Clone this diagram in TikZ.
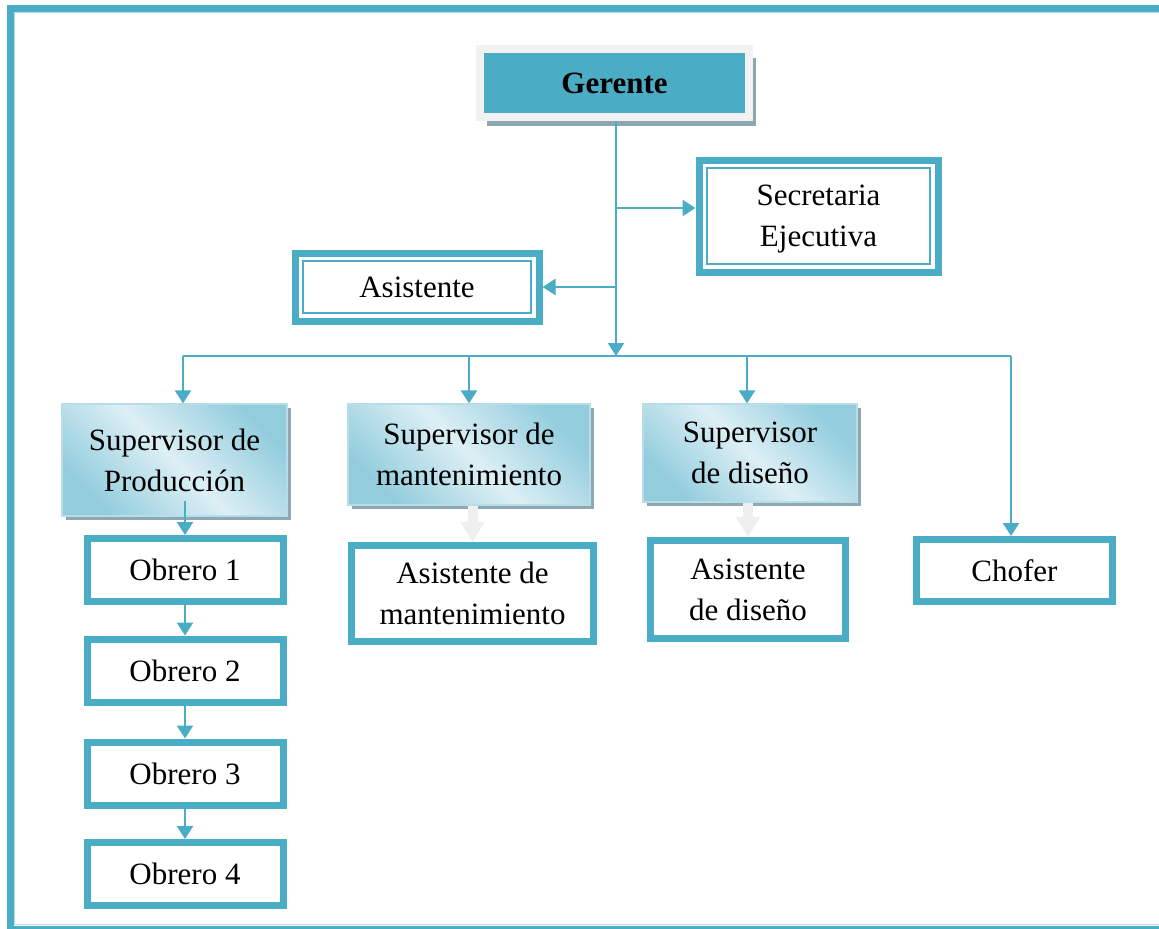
\documentclass[tikz,border=0pt]{standalone}
\usepackage{fontspec}
\setmainfont{Liberation Serif}
\usepackage{tikz}
\usetikzlibrary{arrows.meta}
\usetikzlibrary{shadows}
\definecolor{frameblue}{HTML}{4BACC6}
\definecolor{framelight}{HTML}{B7DEE8}
\definecolor{boxgray}{HTML}{F2F2F2}
\definecolor{shadowgray}{HTML}{8EA8B3}
\definecolor{supdark}{HTML}{93CDDD}
\definecolor{suplight}{HTML}{DDEFF5}
\definecolor{blockgray}{HTML}{EFEFEF}
\newcommand{\orgfont}{\fontsize{15.5}{20.5}\selectfont}
\tikzstyle{org_text}=[font=\orgfont, align=center, inner sep=0pt]
\tikzstyle{plain_box}=[org_text, rectangle, draw=frameblue, line width=3.5pt, fill=white]
\tikzset{double_box/.style={plain_box,
    path picture={
        \draw[frameblue, line width=1pt]
        ([xshift=4pt,yshift=-4pt]path picture bounding box.north west) rectangle
        ([xshift=-4pt,yshift=4pt]path picture bounding box.south east);
      }
    }
}
\tikzstyle{head_box}=[org_text, font=\orgfont\bfseries, rectangle,
    draw=boxgray, line width=4pt, fill=frameblue,
    drop shadow={shadow xshift=3.5pt, shadow yshift=-4.5pt, fill=shadowgray, opacity=1}]
\tikzstyle{sup_box}=[org_text, rectangle, draw=framelight, line width=0.6pt,
    top color=supdark, bottom color=supdark, middle color=suplight, shading angle=-45,
    drop shadow={shadow xshift=2pt, shadow yshift=-2pt, fill=shadowgray, opacity=1}]
\tikzstyle{bus_line}=[draw=frameblue, line width=1.2pt]
\tikzstyle{link}=[bus_line, -{Triangle[length=6.5pt,width=8pt]}]
\tikzstyle{block_link}=[draw=blockgray, line width=5pt, -{Triangle[length=10pt,width=11.5pt]}]

\begin{document}
\begin{tikzpicture}[x=0.5pt,y=-0.5pt]
\useasboundingbox (0,0) rectangle (1159,928);
\draw[framelight, line width=0.5pt] (14.5,12.5) rectangle (1175,924.5);
\draw[frameblue, line width=3.5pt] (10.5,8.5) rectangle (1175,929);
\node[head_box, minimum width=134.5pt, minimum height=34pt] (gerente) at (614.5,83){Gerente};
\node[double_box, minimum width=119.5pt, minimum height=56pt, text depth=-4pt] (secretaria) at (818.5,216){Secretaria\\Ejecutiva};
\node[double_box, minimum width=122pt, minimum height=34pt] (asistente) at (417,287){Asistente};
\node[sup_box, minimum width=112.5pt, minimum height=56pt] (supprod) at (174.5,460){Supervisor de\\Producción};
\node[sup_box, minimum width=121pt, minimum height=50.5pt] (supmant) at (469,454.5){Supervisor de\\mantenimiento};
\node[sup_box, minimum width=107pt, minimum height=49pt] (supdis) at (750,453){Supervisor\\de diseño};
\node[plain_box, minimum width=98pt, minimum height=31.5pt] (obrero1) at (185,570){Obrero 1};
\node[plain_box, minimum width=98pt, minimum height=31.5pt] (obrero2) at (185,670.5){Obrero 2};
\node[plain_box, minimum width=98pt, minimum height=31.5pt] (obrero3) at (185,773.5){Obrero 3};
\node[plain_box, minimum width=98pt, minimum height=31.5pt] (obrero4) at (185,874){Obrero 4};
\node[plain_box, minimum width=121pt, minimum height=48pt] (asimant) at (472.5,593.5){Asistente de\\mantenimiento};
\node[plain_box, minimum width=97.5pt, minimum height=49pt] (asidis) at (748,589.5){Asistente\\de diseño};
\node[plain_box, minimum width=98pt, minimum height=31pt] (chofer) at (1014.5,570.5){Chofer};
\coordinate (jsec) at (616,208);
\coordinate (jasi) at (616,287);
\coordinate (busm) at (616,356);
\coordinate (busl) at (183,356);
\coordinate (busmant) at (469,356);
\coordinate (busdis) at (747,356);
\coordinate (busr) at (1011,356);
\draw[link](gerente.south -| busm) -- (busm);
\draw[link](jsec) -- (jsec -| secretaria.west);
\draw[link](jasi) -- (asistente.east);
\draw[bus_line](busl) -- (busr);
\draw[link](busl) -- (busl |- supprod.north);
\draw[link](busmant) -- (busmant |- supmant.north);
\draw[link](busdis) -- (busdis |- supdis.north);
\draw[link](busr) -- (busr |- chofer.north);
\draw[link]([yshift=8pt]supprod.south -| obrero1.north) -- (obrero1.north);
\draw[link](obrero1) -- (obrero2);
\draw[link](obrero2) -- (obrero3);
\draw[link](obrero3) -- (obrero4);
\draw[block_link](asimant.north |- supmant.south) -- (asimant.north);
\draw[block_link](asidis.north |- supdis.south) -- (asidis.north);
\end{tikzpicture}
\end{document}
